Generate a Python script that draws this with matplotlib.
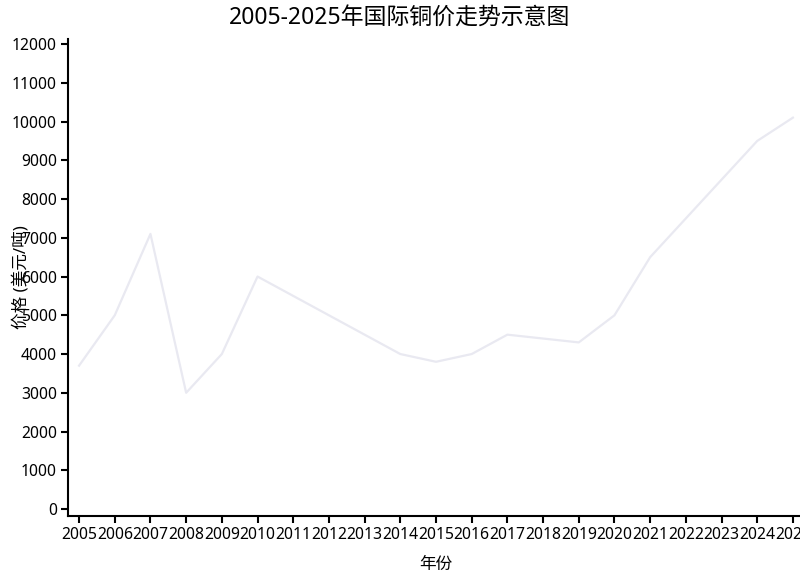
import matplotlib
matplotlib.use("Agg")
import matplotlib.pyplot as plt

plt.rcParams['font.family'] = ['Noto Sans', 'Noto Sans CJK SC', 'DejaVu Sans']

years = [2005, 2006, 2007, 2008, 2009, 2010, 2011, 2012, 2013, 2014, 2015,
         2016, 2017, 2018, 2019, 2020, 2021, 2022, 2023, 2024, 2025]
prices = [3700, 5000, 7100, 3000, 4000, 6000, 5500, 5000, 4500, 4000, 3800,
          4000, 4500, 4400, 4300, 5000, 6500, 7500, 8500, 9500, 10100]
yticks = list(range(0, 12001, 1000))

fig = plt.figure(figsize=(8, 5.71), dpi=100)
ax = fig.add_axes([0.085, 0.0963, 0.92, 0.8354])

ax.plot(years, prices, color="#e9e9f1", linewidth=1.6)

ax.set_xlim(2004.69, 2025.31)
ax.set_ylim(-180, 12130)
ax.set_xticks(years)
ax.set_xticklabels([str(y) for y in years])
ax.set_yticks(yticks)

for s in ["top", "right"]:
    ax.spines[s].set_visible(False)
for s in ["left", "bottom"]:
    ax.spines[s].set_linewidth(1.5)
ax.tick_params(axis="both", labelsize=11.3, width=1.5, length=5, pad=3)

fig.suptitle("2005-2025年国际铜价走势示意图", fontsize=16.5, x=0.5, y=0.988)
ax.set_xlabel("年份", fontsize=12)
ax.set_ylabel("价格 (美元/吨)", fontsize=12)
ax.yaxis.set_label_coords(-0.052, 0.5)
ax.xaxis.set_label_coords(0.5, -0.085)

fig.savefig("out.png", dpi=100)
